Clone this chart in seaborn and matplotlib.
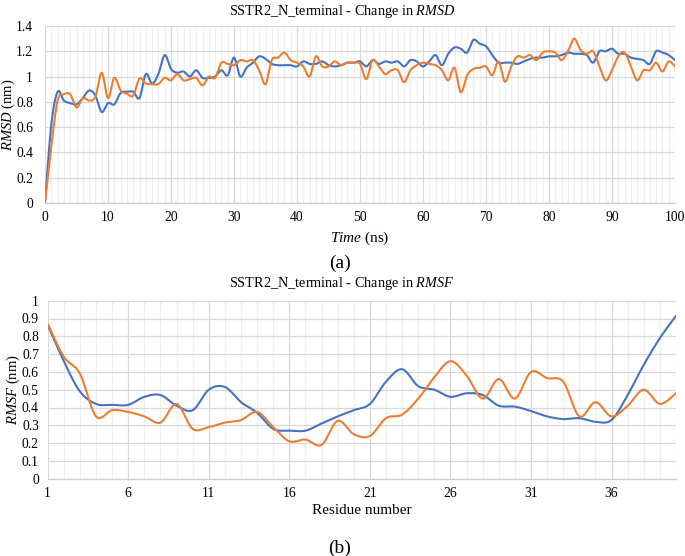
import numpy as np
import pandas as pd
import matplotlib
matplotlib.use("Agg")
import matplotlib.pyplot as plt
from matplotlib.ticker import MultipleLocator, FixedLocator, FuncFormatter
import seaborn as sns

# ---- data ----
time_ns = list(range(0, 101))
rmsd_blue = [
    0.00, 0.62, 0.88, 0.81, 0.79, 0.78, 0.83, 0.89, 0.85, 0.72,
    0.79, 0.78, 0.87, 0.88, 0.88, 0.83, 1.02, 0.945, 1.02, 1.17,
    1.06, 1.03, 1.04, 1.00, 1.05, 0.99, 0.99, 1.00, 1.05, 1.01,
    1.15, 1.00, 1.07, 1.11, 1.16, 1.14, 1.10, 1.09, 1.09, 1.09,
    1.08, 1.12, 1.10, 1.10, 1.12, 1.09, 1.08, 1.09, 1.11, 1.11,
    1.12, 1.08, 1.13, 1.10, 1.12, 1.11, 1.12, 1.08, 1.13, 1.12,
    1.08, 1.12, 1.17, 1.09, 1.18, 1.23, 1.22, 1.19, 1.29, 1.26,
    1.24, 1.17, 1.11, 1.11, 1.11, 1.10, 1.12, 1.14, 1.15, 1.15,
    1.16, 1.16, 1.17, 1.19, 1.18, 1.18, 1.17, 1.11, 1.20, 1.20,
    1.22, 1.18, 1.18, 1.15, 1.14, 1.13, 1.10, 1.20, 1.19, 1.17,
    1.13,
]
rmsd_orange = [
    0.00, 0.45, 0.81, 0.86, 0.86, 0.755, 0.83, 0.81, 0.84, 1.03,
    0.83, 0.99, 0.89, 0.865, 0.85, 0.985, 0.945, 0.94, 0.94, 0.99,
    0.97, 1.02, 0.97, 0.98, 0.99, 0.93, 1.00, 0.99, 1.11, 1.10,
    1.09, 1.13, 1.12, 1.13, 1.05, 0.94, 1.13, 1.15, 1.19, 1.13,
    1.11, 1.08, 1.00, 1.16, 1.08, 1.08, 1.12, 1.09, 1.11, 1.11,
    1.10, 0.98, 1.13, 1.08, 1.02, 1.05, 1.05, 0.955, 1.05, 1.09,
    1.11, 1.10, 1.09, 1.05, 0.97, 1.07, 0.875, 1.01, 1.06, 1.07,
    1.08, 1.01, 1.12, 0.96, 1.08, 1.16, 1.15, 1.17, 1.13, 1.19,
    1.20, 1.19, 1.13, 1.20, 1.30, 1.21, 1.18, 1.20, 1.08, 0.97,
    1.05, 1.16, 1.19, 1.08, 0.97, 1.05, 1.05, 1.11, 1.04, 1.12,
    1.08,
]

residue = list(range(1, 41))
rmsf_blue = [
    0.863, 0.66, 0.49, 0.42, 0.415, 0.415, 0.46, 0.47, 0.41, 0.385,
    0.50, 0.515, 0.43, 0.37, 0.28, 0.27, 0.27, 0.31, 0.35, 0.385,
    0.42, 0.545, 0.615, 0.52, 0.50, 0.46, 0.48, 0.47, 0.41, 0.405,
    0.38, 0.35, 0.335, 0.34, 0.32, 0.33, 0.47, 0.64, 0.79, 0.915,
]
rmsf_orange = [
    0.87, 0.685, 0.59, 0.35, 0.385, 0.375, 0.35, 0.315, 0.42, 0.28,
    0.29, 0.315, 0.33, 0.375, 0.29, 0.21, 0.22, 0.19, 0.325, 0.25,
    0.24, 0.34, 0.36, 0.45, 0.57, 0.66, 0.58, 0.45, 0.56, 0.45,
    0.60, 0.565, 0.545, 0.35, 0.43, 0.35, 0.41, 0.50, 0.42, 0.48,
]

rmsd_yticks = [0, 0.2, 0.4, 0.6, 0.8, 1.0, 1.2, 1.4]
rmsf_yticks = [0, 0.1, 0.2, 0.3, 0.4, 0.5, 0.6, 0.7, 0.8, 0.9, 1.0]
rmsf_xticks = [1, 6, 11, 16, 21, 26, 31, 36]

BLUE = "#4472C4"
ORANGE = "#ED7D31"
GRID = "#D9D9D9"
GRID_MINOR = "#EFEFEF"
TXT = "#000000"


def smooth_df(x, y, steps=12):
    """Excel-style smoothed line (Bezier through the points)."""
    x = np.asarray(x, float)
    y = np.asarray(y, float)
    pts = np.column_stack([x, y])
    ext = np.vstack([pts[0], pts, pts[-1]])
    t = np.linspace(0, 1, steps, endpoint=False)[:, None]
    out = []
    for i in range(len(pts) - 1):
        p0, p1, p2, p3 = ext[i], ext[i + 1], ext[i + 2], ext[i + 3]
        c1 = p1 + (p2 - p0) / 6
        c2 = p2 - (p3 - p1) / 6
        seg = ((1 - t) ** 3) * p1 + 3 * ((1 - t) ** 2) * t * c1 \
            + 3 * (1 - t) * t ** 2 * c2 + t ** 3 * p2
        out.append(seg)
    out.append(pts[-1][None, :])
    out = np.vstack(out)
    return pd.DataFrame({"x": out[:, 0], "y": out[:, 1]})


sns.set_theme(style="white")
plt.rcParams["font.family"] = ["Liberation Serif", "DejaVu Serif"]
plt.rcParams["mathtext.fontset"] = "custom"
plt.rcParams["mathtext.rm"] = "Liberation Serif"
plt.rcParams["mathtext.it"] = "Liberation Serif:italic"

W, H = 685, 556
fig = plt.figure(figsize=(W / 100, H / 100), dpi=100)
fig.patch.set_facecolor("white")


def px_axes(left, top, right, bottom):
    return fig.add_axes([left / W, 1 - bottom / H, (right - left) / W, (bottom - top) / H])


def style_axes(ax, ypad):
    ax.set_facecolor("white")
    for side in ["top", "right", "left"]:
        ax.spines[side].set_visible(False)
    ax.spines["bottom"].set_color("#CFCFCF")
    ax.spines["bottom"].set_linewidth(1.0)
    ax.set_axisbelow(True)
    ax.grid(which="major", color=GRID, linewidth=0.9)
    ax.grid(which="minor", axis="x", color=GRID_MINOR, linewidth=0.9)
    ax.tick_params(which="both", length=0, labelsize=9.8, colors=TXT)
    ax.tick_params(axis="y", pad=ypad)
    ax.tick_params(axis="x", pad=6)
    ax.yaxis.set_major_formatter(FuncFormatter(lambda v, _: f"{v:g}"))


# ---- (a) RMSD ----
ax1 = px_axes(45, 26, 675, 203)
style_axes(ax1, ypad=8.5)
sns.lineplot(data=smooth_df(time_ns, rmsd_blue), x="x", y="y", ax=ax1,
             color=BLUE, linewidth=1.5, sort=False, estimator=None)
sns.lineplot(data=smooth_df(time_ns, rmsd_orange), x="x", y="y", ax=ax1,
             color=ORANGE, linewidth=1.5, sort=False, estimator=None)
ax1.set_xlim(0, 100)
ax1.set_ylim(0, 1.4)
ax1.xaxis.set_major_locator(MultipleLocator(10))
ax1.xaxis.set_minor_locator(MultipleLocator(1))
ax1.yaxis.set_major_locator(FixedLocator(rmsd_yticks))
ax1.set_xlabel(r"$\it{Time}$ (ns)", fontsize=11, color=TXT)
ax1.set_ylabel(r"$\it{RMSD}$ (nm)", fontsize=10.5, color=TXT)
ax1.xaxis.label.set_va("center")
ax1.yaxis.label.set_va("center")
ax1.xaxis.set_label_coords(0.5, -0.198)
ax1.yaxis.set_label_coords(-0.0585, 0.5)
fig.text(342 / W, 1 - 11 / H, r"SSTR2_N_terminal - Change in $\it{RMSD}$",
         ha="center", va="center", fontsize=10.3, color=TXT)
fig.text(340 / W, 1 - 263 / H, "(a)", ha="center", va="center", fontsize=14, color=TXT)

# ---- (b) RMSF ----
ax2 = px_axes(47.7, 300.7, 676, 478.7)
style_axes(ax2, ypad=6.3)
sns.lineplot(data=smooth_df(residue, rmsf_blue), x="x", y="y", ax=ax2,
             color=BLUE, linewidth=1.5, sort=False, estimator=None)
sns.lineplot(data=smooth_df(residue, rmsf_orange), x="x", y="y", ax=ax2,
             color=ORANGE, linewidth=1.5, sort=False, estimator=None)
ax2.set_xlim(1, 40)
ax2.set_ylim(0, 1.0)
ax2.xaxis.set_major_locator(FixedLocator(rmsf_xticks))
ax2.xaxis.set_minor_locator(MultipleLocator(1))
ax2.yaxis.set_major_locator(FixedLocator(rmsf_yticks))
ax2.set_xlabel("Residue number", fontsize=11, color=TXT)
ax2.set_ylabel(r"$\it{RMSF}$ (nm)", fontsize=10.5, color=TXT)
ax2.xaxis.label.set_va("center")
ax2.yaxis.label.set_va("center")
ax2.xaxis.set_label_coords(0.5, -0.176)
ax2.yaxis.set_label_coords(-0.055, 0.5)
fig.text(342 / W, 1 - 283 / H, r"SSTR2_N_terminal - Change in $\it{RMSF}$",
         ha="center", va="center", fontsize=10.3, color=TXT)
fig.text(340 / W, 1 - 548 / H, "(b)", ha="center", va="center", fontsize=14, color=TXT)

fig.savefig("out.png", dpi=100, facecolor="white")
plt.close(fig)
